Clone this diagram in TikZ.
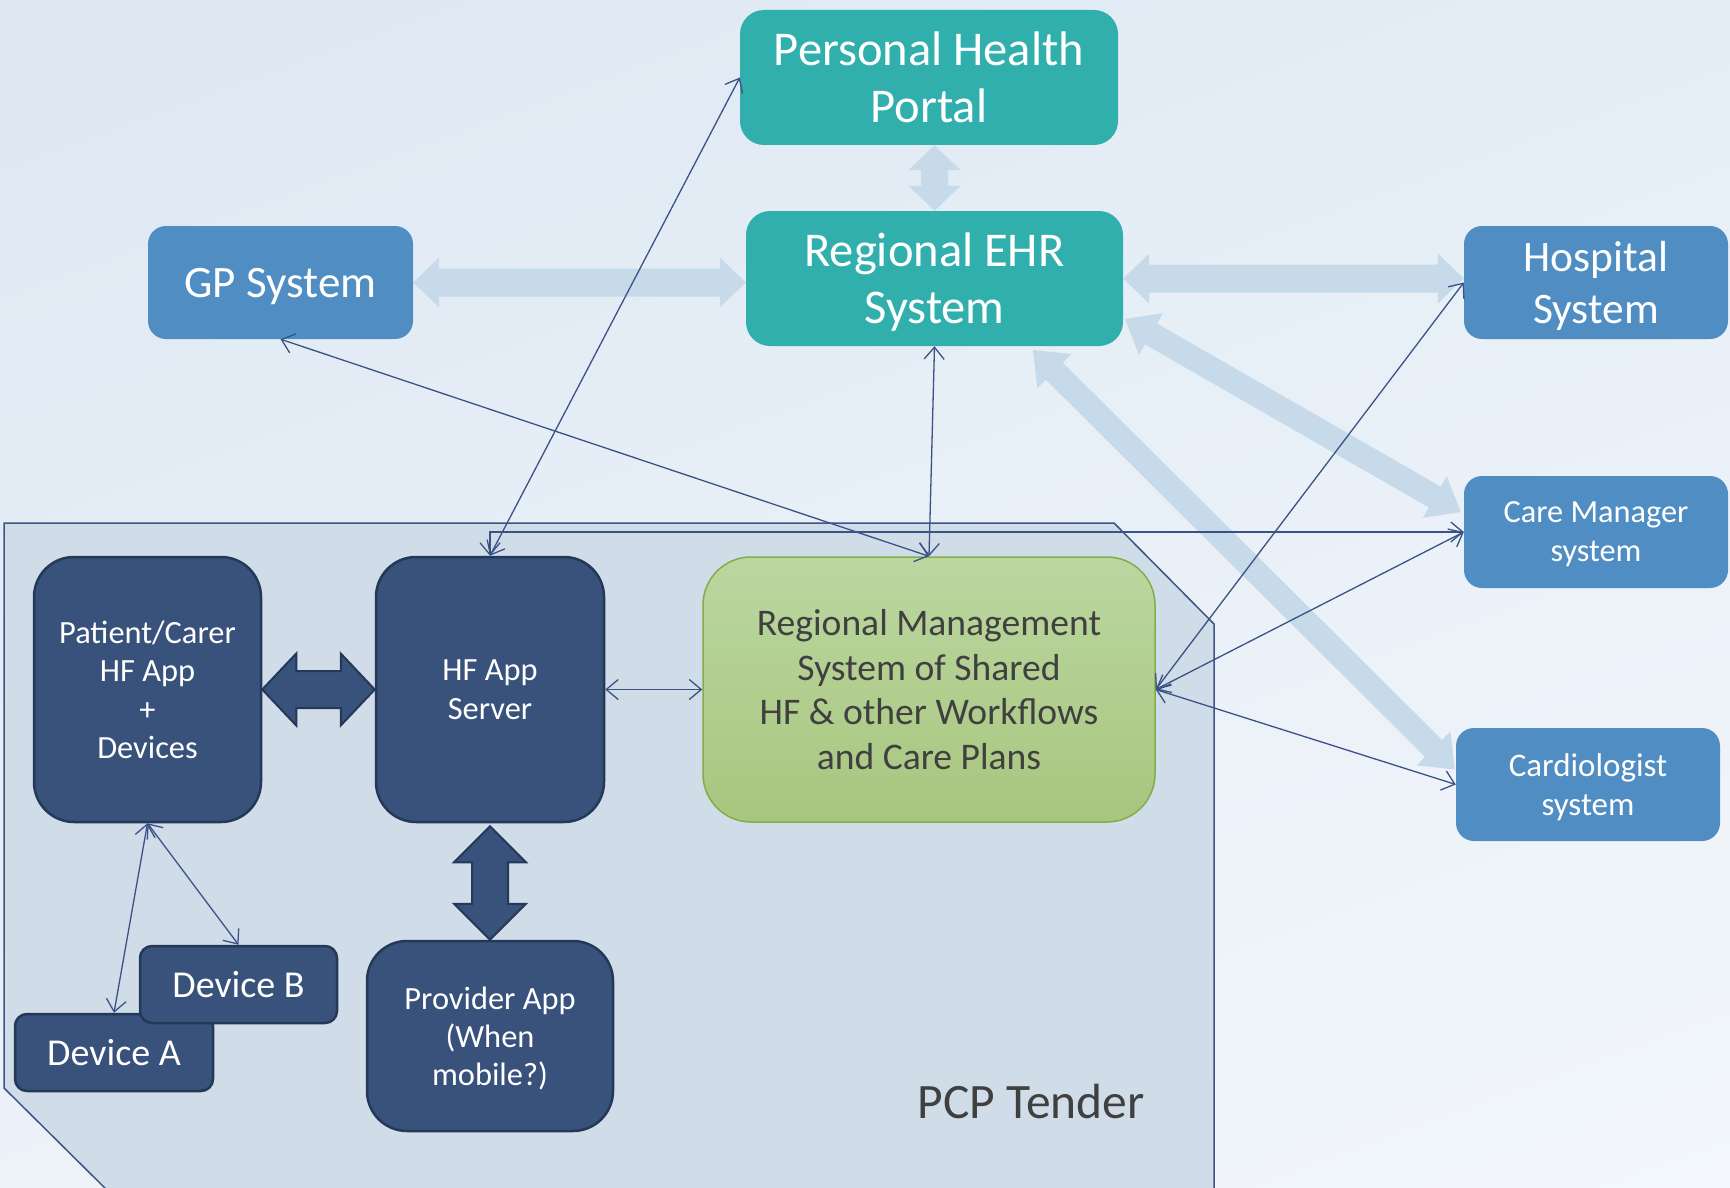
\documentclass[tikz,border=0pt]{standalone}
\usepackage{fontspec}
\setmainfont{Carlito}
\usetikzlibrary{arrows.meta,calc}
\definecolor{cTeal}{HTML}{31AFAD}
\definecolor{cBlue}{HTML}{508DC2}
\definecolor{cNavy}{HTML}{38527B}
\definecolor{cNavyD}{HTML}{243858}
\definecolor{cGreenT}{HTML}{BBD7A0}
\definecolor{cGreenB}{HTML}{A8C67F}
\definecolor{cGreenD}{HTML}{82AE48}
\definecolor{cLight}{HTML}{C6DAEA}
\definecolor{cLine}{HTML}{3A5285}
\definecolor{cPCP}{HTML}{D1DCE9}
\definecolor{cPCPd}{HTML}{3D5484}
\definecolor{cGrey}{HTML}{404040}
\definecolor{cBgT}{HTML}{DDE8F3}
\definecolor{cBgB}{HTML}{F3F7FB}
\newcommand\fatarr[6]{%
  \path ($(#1)!#5!(#2)$) coordinate (fa1) ($(#2)!#5!(#1)$) coordinate (fa2);
  \path[#6] (#1) -- ($(fa1)!#4!90:(#2)$) -- ($(fa1)!#3!90:(#2)$) -- ($(fa2)!#3!-90:(#1)$)
    -- ($(fa2)!#4!-90:(#1)$) -- (#2) -- ($(fa2)!#4!90:(#1)$) -- ($(fa2)!#3!90:(#1)$)
    -- ($(fa1)!#3!-90:(#2)$) -- ($(fa1)!#4!-90:(#2)$) -- cycle;
}
\tikzset{
  box/.style={align=center, inner sep=0pt, text=white, text depth=0pt},
  tealbox/.style={box, fill=cTeal, rounded corners=24pt, font=\fontsize{48.5}{57}\selectfont},
  bluebox/.style={box, fill=cBlue, rounded corners=18pt},
  navybox/.style={box, fill=cNavy, draw=cNavyD, line width=2.5pt},
  greenbox/.style={box, text=cGrey, draw=cGreenD, line width=1.5pt, top color=cGreenT, bottom color=cGreenB, rounded corners=48pt, font=\fontsize{37.6}{44.7}\selectfont},
  link/.style={draw=cLine, line width=1.3pt, {Straight Barb[length=12pt,width=20pt]}-{Straight Barb[length=12pt,width=20pt]}},
  lightarr/.style={fill=cLight},
  darkarr/.style={fill=cNavy, draw=cNavyD, line width=2pt},
}
\begin{document}
\begin{tikzpicture}[x=1pt,y=-1pt]
\useasboundingbox (0,0) rectangle (1730,1188);
\shade[top color=cBgT, bottom color=cBgB, shading angle=20] (-200,-200) rectangle (1930,1388);
% PCP tender region
\path[fill=cPCP, draw=cPCPd, line width=1.5pt] (4,523) -- (1114,523) -- (1214,624) -- (1214,1195) -- (112,1195) -- (4,1088) -- cycle;
\node[text=cGrey, font=\fontsize{49.5}{52}\selectfont] (pcp) at (1031,1101) {PCP Tender};
% top-level nodes
\node[tealbox, minimum width=378pt, minimum height=135pt] (portal) at (929,77.5) {Personal Health\\Portal};
\node[tealbox, minimum width=377pt, minimum height=135pt] (ehr) at (934.5,278.5) {Regional EHR\\System};
\node[bluebox, minimum width=265pt, minimum height=113pt, font=\fontsize{45}{52}\selectfont] (gp) at (280.5,282.5) {GP System};
\node[bluebox, minimum width=264pt, minimum height=113pt, font=\fontsize{43.5}{52}\selectfont] (hosp) at (1596,282.5) {Hospital\\System};
\node[bluebox, minimum width=264pt, minimum height=112pt, font=\fontsize{32.3}{39}\selectfont] (care) at (1596,532) {Care Manager\\system};
\node[bluebox, minimum width=264pt, minimum height=113pt, font=\fontsize{33}{38.5}\selectfont] (cardio) at (1588,784.5) {Cardiologist\\system};
% PCP nodes
\node[navybox, rounded corners=40pt, minimum width=227pt, minimum height=265pt, font=\fontsize{32.4}{38.5}\selectfont] (patient) at (147.5,689.5) {Patient/Carer\\HF App\\+\\Devices};
\node[navybox, rounded corners=40pt, minimum width=228pt, minimum height=265pt, font=\fontsize{32.4}{38.5}\selectfont] (server) at (490,689.5) {HF App\\Server};
\node[greenbox, minimum width=452pt, minimum height=265pt] (rms) at (929,689.5) {Regional Management\\System of Shared\\HF \& other Workflows\\and Care Plans};
\node[navybox, rounded corners=12pt, minimum width=198pt, minimum height=77pt, font=\fontsize{38}{44}\selectfont] (devA) at (114,1052.5) {Device A};
\node[navybox, rounded corners=12pt, minimum width=197pt, minimum height=77pt, font=\fontsize{38}{44}\selectfont] (devB) at (238.5,984.5) {Device B};
\node[navybox, rounded corners=40pt, minimum width=246pt, minimum height=190pt, font=\fontsize{32.4}{38}\selectfont] (provider) at (490,1036) {Provider App\\(When\\mobile?)};
% light fat arrows
\coordinate (gpE) at (gp.east);
\coordinate (ehrW) at (gp.east -| ehr.west);
\fatarr{gpE}{ehrW}{14pt}{25pt}{26pt}{lightarr}
\coordinate (ehrE) at (ehr.east);
\coordinate (hospW) at (ehr.east -| hosp.west);
\fatarr{ehrE}{hospW}{14pt}{25pt}{26pt}{lightarr}
\coordinate (portS) at (ehr.north |- portal.south);
\coordinate (ehrN) at (ehr.north);
\fatarr{portS}{ehrN}{13.5pt}{26pt}{25pt}{lightarr}
\coordinate (dc1) at (1125,319);
\coordinate (dc2) at ($(care.west)+(-3,-20)$);
\fatarr{dc1}{dc2}{12pt}{24pt}{30pt}{lightarr}
\coordinate (dd1) at (1033,350);
\coordinate (dd2) at ($(cardio.west)+(-1,-15)$);
\fatarr{dd1}{dd2}{12pt}{24pt}{30pt}{lightarr}
% dark fat arrows
\coordinate (patE) at (patient.east);
\coordinate (srvW) at (server.west);
\fatarr{patE}{srvW}{18.5pt}{36pt}{34pt}{darkarr}
\coordinate (srvS) at ($(server.south)+(0,3)$);
\coordinate (provN) at (provider.north);
\fatarr{srvS}{provN}{18pt}{36pt}{36pt}{darkarr}
% thin connectors
\draw[link] (server.north) -- (portal.west);
\draw[link] (gp.south) -- (rms.north);
\draw[link] (ehr.south) -- (rms.north);
\draw[link] (server.north) |- (care.west);
\draw[link] (rms.east) -- (hosp.west);
\draw[link] (rms.east) -- (care.west);
\draw[link] (rms.east) -- (cardio.west);
\draw[link] (server.east) -- (rms.west);
\draw[link] (patient.south) -- (devA.north);
\draw[link] (patient.south) -- (devB.north);
\end{tikzpicture}
\end{document}
